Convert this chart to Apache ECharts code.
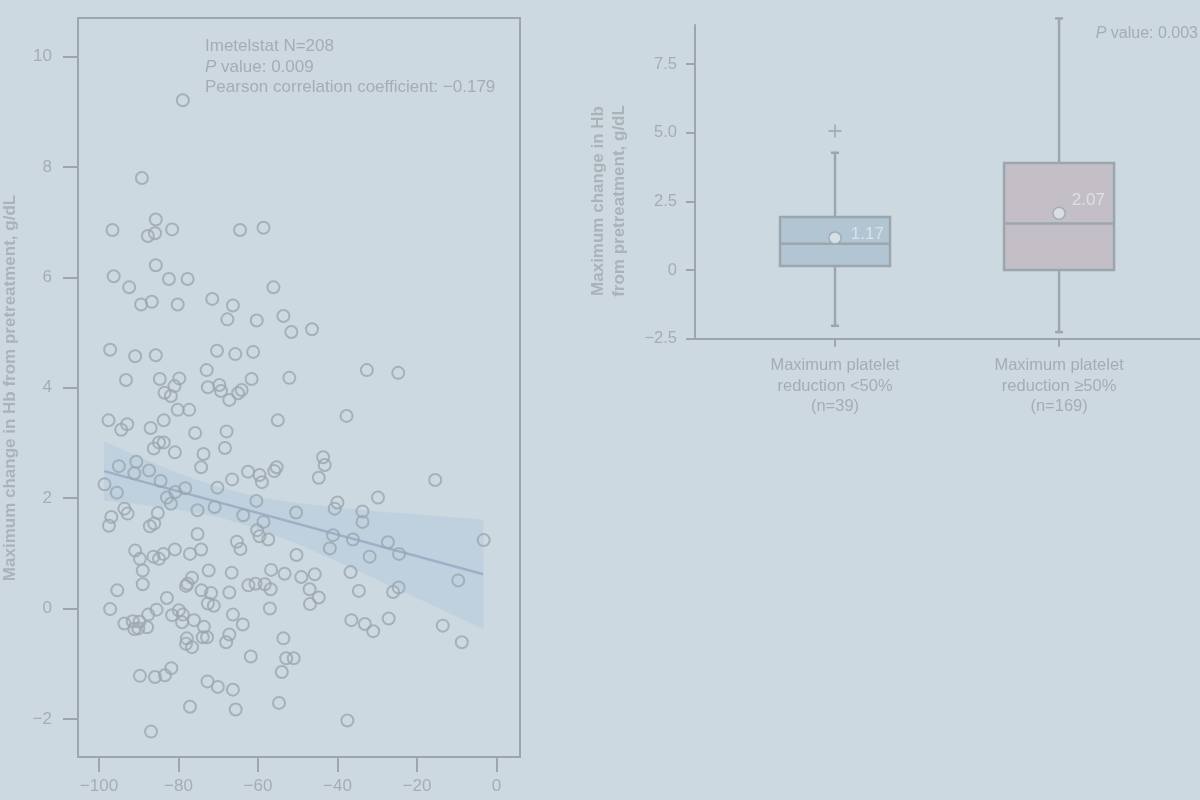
<!DOCTYPE html>
<html><head><meta charset="utf-8">
<script src="https://cdn.jsdelivr.net/npm/echarts@6/dist/echarts.min.js"></script>
<style>html,body{margin:0;padding:0;background:#cdd9e0}#c{width:1200px;height:800px}</style>
</head><body><div id="c"></div>
<script>
// ---- Left panel: scatter of max platelet reduction (%) vs max change in Hb (g/dL)
const plateletReduction = [
-89.2,-85.7,-96.6,-87.7,-85.9,-81.6,-64.5,-58.6,-85.7,-96.3,-92.4,-82.4,-77.7,-56.1,-89.4,-86.7,-80.2,-71.5,-66.3,-67.7,
-60.3,-53.6,-51.6,-97.2,-90.9,-85.7,-70.3,-65.7,-61.2,-93.2,-84.7,-79.8,-81.0,-83.5,-81.9,-72.9,-72.6,-69.7,-69.3,-67.2,
-65.0,-64.1,-61.6,-52.1,-97.6,-94.4,-92.9,-87.0,-83.7,-80.2,-77.3,-75.8,-67.9,-55.0,-86.2,-84.9,-83.7,-80.9,-73.7,-68.3,
-74.3,-95.0,-90.6,-91.1,-87.4,-84.5,-98.6,-95.5,-80.8,-78.3,-82.9,-81.9,-70.2,-66.5,-62.5,-59.6,-59.0,-55.9,-55.3,-60.4,
-96.9,-97.5,-93.6,-92.8,-85.2,-87.2,-86.1,-75.2,-70.9,-63.7,-58.6,-50.4,-75.2,-60.2,-59.6,-57.4,-65.3,-64.4,-90.9,-89.7,
-86.3,-84.9,-83.8,-80.9,-77.1,-74.3,-50.3,-89.0,-72.4,-66.6,-56.7,-53.3,-95.4,-89.0,-78.1,-77.7,-76.6,-74.2,-71.8,-67.2,
-62.4,-60.6,-58.3,-56.8,-82.9,-49.1,-37.7,-43.6,-43.2,-44.7,-15.4,-29.8,-40.0,-40.7,-33.7,-33.7,-41.1,-36.1,-27.3,-24.5,
-3.2,-41.9,-31.9,-45.7,-36.7,-9.6,-47.0,-44.7,-34.6,-26.0,-24.6,-97.2,-93.6,-91.5,-91.1,-89.8,-90.1,-87.9,-87.6,-85.5,
-81.6,-79.9,-78.9,-79.1,-76.1,-73.6,-73.9,-72.8,-77.9,-78.1,-76.6,-72.6,-71.1,-66.3,-63.8,-67.2,-68.0,-57.0,-53.6,-61.8,
-52.9,-51.0,-54.0,-89.7,-85.9,-83.4,-81.8,-72.7,-70.1,-66.3,-77.1,-65.6,-54.7,-86.9,-46.9,-36.5,-33.1,-31.0,-27.1,-13.5,
-8.7,-37.5,-78.9,-46.4,-32.6,-24.7
];
const hbChange = [
7.80,7.05,6.86,6.75,6.80,6.87,6.86,6.90,6.22,6.02,5.82,5.97,5.97,5.82,5.51,5.56,5.51,5.61,5.49,5.24,
5.22,5.30,5.01,4.69,4.57,4.59,4.67,4.61,4.65,4.14,4.16,4.17,4.03,3.91,3.85,4.32,4.01,4.05,3.94,3.78,
3.90,3.96,4.16,4.18,3.41,3.24,3.34,3.27,3.41,3.60,3.60,3.18,3.21,3.41,2.90,3.01,3.01,2.83,2.80,2.91,
2.56,2.58,2.66,2.45,2.50,2.31,2.25,2.10,2.11,2.18,2.01,1.90,2.19,2.34,2.48,2.42,2.29,2.49,2.56,1.95,
1.66,1.50,1.81,1.72,1.73,1.49,1.54,1.78,1.84,1.69,1.57,1.74,1.35,1.42,1.31,1.25,1.21,1.08,1.05,0.90,
0.94,0.90,0.99,1.07,0.99,1.07,0.97,0.69,0.69,0.65,0.70,0.63,0.33,0.44,0.41,0.45,0.56,0.33,0.28,0.29,
0.42,0.45,0.44,0.35,0.19,0.57,3.49,2.74,2.60,2.37,2.33,2.01,1.92,1.81,1.76,1.57,1.33,1.25,1.20,0.99,
1.24,1.09,0.94,0.62,0.66,0.51,0.35,0.20,0.32,0.30,0.38,-0.01,-0.27,-0.23,-0.37,-0.24,-0.36,-0.34,-0.11,-0.02,
-0.12,-0.03,-0.11,-0.25,-0.21,-0.33,-0.52,-0.52,-0.54,-0.64,-0.70,0.09,0.05,-0.11,-0.29,-0.47,-0.61,0.00,-0.54,-0.87,
-0.90,-0.90,-1.15,-1.22,-1.24,-1.21,-1.08,-1.32,-1.42,-1.47,-1.78,-1.83,-1.71,-2.23,0.08,-0.21,-0.28,-0.41,-0.18,-0.31,
-0.61,-2.03,9.21,5.06,4.32,4.27
];
const regLineX = [-98.7, -3.3];
const regLineY = [2.49, 0.62];
const bandX     = [-98.7, -90, -80, -70, -60, -50, -40, -30, -20, -10, -3.3];
const bandUpper = [3.03, 2.75, 2.45, 2.20, 2.02, 1.91, 1.83, 1.76, 1.71, 1.65, 1.61];
const bandLower = [1.95, 1.89, 1.79, 1.66, 1.44, 1.17, 0.85, 0.52, 0.19, -0.15, -0.37];
const scatterXTicks = [-100, -80, -60, -40, -20, 0];
const scatterYTicks = [-2, 0, 2, 4, 6, 8, 10];
const nPatients = 208;
const scatterP = '0.009';
const pearsonR = '\u22120.179';

// ---- Right panel: box plot
const boxCategories = ['Maximum platelet\nreduction <50%\n(n=39)', 'Maximum platelet\nreduction \u226550%\n(n=169)'];
const boxPos    = [1, 2];
const boxMin    = [-2.03, -2.26];
const boxQ1     = [0.15, 0.00];
const boxMedian = [0.96, 1.69];
const boxQ3     = [1.93, 3.90];
const boxMax    = [4.27, 9.16];
const boxMean   = [1.17, 2.07];
const outlierPos = [1];
const outlierVal = [5.06];
const boxYTicks = [-2.5, 0, 2.5, 5, 7.5];
const boxP = '0.003';

const GRAY = '#9ba6ae';
const TEXT = '#a4adb4';
const FONT = '"Liberation Sans", Arial, sans-serif';
const FS = 17;
const boxColors = ['#b2c5d3', '#c4bec6'];
const minus = v => String(v).replace('-', '\u2212');

const chart = echarts.init(document.getElementById('c'));

const boxData = boxPos.map((p, i) => [p, boxMin[i], boxQ1[i], boxMedian[i], boxQ3[i], boxMax[i]]);

function renderBox(params, api) {
  const x = api.value(0);
  const pMin = api.coord([x, api.value(1)]);
  const pQ1 = api.coord([x, api.value(2)]);
  const pMed = api.coord([x, api.value(3)]);
  const pQ3 = api.coord([x, api.value(4)]);
  const pMax = api.coord([x, api.value(5)]);
  const half = 55, cap = 4;
  const ls = { stroke: GRAY, lineWidth: 2.5 };
  const cx = pMed[0];
  return {
    type: 'group',
    children: [
      { type: 'line', shape: { x1: cx, y1: pMax[1], x2: cx, y2: pQ3[1] }, style: ls },
      { type: 'line', shape: { x1: cx, y1: pQ1[1], x2: cx, y2: pMin[1] }, style: ls },
      { type: 'line', shape: { x1: cx - cap, y1: pMax[1], x2: cx + cap, y2: pMax[1] }, style: ls },
      { type: 'line', shape: { x1: cx - cap, y1: pMin[1], x2: cx + cap, y2: pMin[1] }, style: ls },
      { type: 'rect', shape: { x: cx - half, y: pQ3[1], width: 2 * half, height: pQ1[1] - pQ3[1] },
        style: { fill: boxColors[params.dataIndex], stroke: GRAY, lineWidth: 2.5 } },
      { type: 'line', shape: { x1: cx - half, y1: pMed[1], x2: cx + half, y2: pMed[1] }, style: ls }
    ]
  };
}

function renderBand(params, api) {
  const pts = [];
  bandX.forEach((x, i) => pts.push(api.coord([x, bandUpper[i]])));
  for (let i = bandX.length - 1; i >= 0; i--) pts.push(api.coord([bandX[i], bandLower[i]]));
  return { type: 'polygon', shape: { points: pts }, style: { fill: 'rgba(176,200,222,0.45)' } };
}

const labelOffsets = [[0, -4], [0, -13]];
const labelDist = [9, 6];

const option = {
  backgroundColor: '#cdd9e0',
  animation: false,
  textStyle: { fontFamily: FONT },
  grid: [
    { left: 78, top: 18, width: 442, height: 739, show: true, borderColor: GRAY, borderWidth: 2, containLabel: false },
    { left: 695, top: 25, right: 0, height: 313.7, containLabel: false }
  ],
  xAxis: [
    { type: 'value', gridIndex: 0, min: -105.28, max: 5.94,
      axisLine: { show: false, onZero: false },
      axisTick: { show: true, length: 15, lineStyle: { color: GRAY, width: 2 }, customValues: scatterXTicks },
      axisLabel: { customValues: scatterXTicks, formatter: minus, color: TEXT, fontSize: FS, margin: 21, fontFamily: FONT },
      splitLine: { show: false } },
    { type: 'value', gridIndex: 1, min: 0.375, max: 2.629,
      axisLine: { show: true, onZero: false, lineStyle: { color: GRAY, width: 2 } },
      axisTick: { show: true, length: 8, lineStyle: { color: GRAY, width: 2 }, customValues: boxPos },
      axisLabel: { customValues: boxPos, formatter: v => boxCategories[Math.round(v) - 1], color: TEXT,
        fontSize: 16.5, lineHeight: 20.5, margin: 17, fontFamily: FONT },
      splitLine: { show: false } }
  ],
  yAxis: [
    { type: 'value', gridIndex: 0, min: -2.69, max: 10.70,
      axisLine: { show: false, onZero: false },
      axisTick: { show: true, length: 15, lineStyle: { color: GRAY, width: 2 }, customValues: scatterYTicks },
      axisLabel: { customValues: scatterYTicks, formatter: minus, color: TEXT, fontSize: FS, margin: 26, fontFamily: FONT },
      splitLine: { show: false } },
    { type: 'value', gridIndex: 1, min: -2.5, max: 8.92,
      axisLine: { show: true, onZero: false, lineStyle: { color: GRAY, width: 2 } },
      axisTick: { show: true, length: 9, lineStyle: { color: GRAY, width: 2 }, customValues: boxYTicks },
      axisLabel: { customValues: boxYTicks, formatter: v => v === 0 ? '0' : minus(v.toFixed(1)), color: TEXT,
        fontSize: 16.5, margin: 18, fontFamily: FONT },
      splitLine: { show: false } }
  ],
  series: [
    { type: 'custom', xAxisIndex: 0, yAxisIndex: 0, renderItem: renderBand, silent: true, z: 1,
      data: [[bandX[0], bandUpper[0]]] },
    { type: 'line', xAxisIndex: 0, yAxisIndex: 0, symbol: 'none', silent: true, z: 2,
      lineStyle: { color: '#9db0c6', width: 2.5 }, data: regLineX.map((x, i) => [x, regLineY[i]]) },
    { type: 'scatter', xAxisIndex: 0, yAxisIndex: 0, symbol: 'circle', symbolSize: 12, z: 3,
      itemStyle: { color: 'rgba(0,0,0,0)', borderColor: GRAY, borderWidth: 2 },
      data: plateletReduction.map((x, i) => [x, hbChange[i]]) },
    { type: 'custom', xAxisIndex: 1, yAxisIndex: 1, renderItem: renderBox, data: boxData,
      encode: { x: 0, y: [1, 2, 3, 4, 5] }, z: 2 },
    { type: 'scatter', xAxisIndex: 1, yAxisIndex: 1, symbol: 'circle', symbolSize: 12, z: 5,
      itemStyle: { color: '#dfe6ea', borderColor: GRAY, borderWidth: 1.5 },
      data: boxPos.map((p, i) => ({ value: [p, boxMean[i]],
        label: { show: true, position: 'right', distance: labelDist[i], offset: labelOffsets[i],
          formatter: boxMean[i].toFixed(2), color: '#e3e9ed', fontSize: FS, fontFamily: FONT } })) },
    { type: 'scatter', xAxisIndex: 1, yAxisIndex: 1, symbol: 'path://M-1,-7h2v14h-2z M-7,-1h14v2h-14z',
      symbolSize: 13, itemStyle: { color: GRAY }, z: 5,
      data: outlierPos.map((p, i) => [p, outlierVal[i]]) }
  ],
  graphic: [
    { type: 'text', x: 205, y: 46, style: { text: 'Imetelstat N=' + nPatients, fill: TEXT, fontSize: FS, fontFamily: FONT, verticalAlign: 'middle' } },
    { type: 'text', x: 205, y: 67, style: { text: '{i|P} value: ' + scatterP, fill: TEXT, fontSize: FS, fontFamily: FONT, verticalAlign: 'middle',
      rich: { i: { fontStyle: 'italic', fontSize: FS, fontFamily: FONT, fill: TEXT } } } },
    { type: 'text', x: 205, y: 87.5, style: { text: 'Pearson correlation coefficient: ' + pearsonR, fill: TEXT, fontSize: FS, fontFamily: FONT, verticalAlign: 'middle' } },
    { type: 'text', x: 1198, y: 34, style: { text: '{i|P} value: ' + boxP, fill: TEXT, fontSize: 16, fontFamily: FONT, align: 'right', verticalAlign: 'middle',
      rich: { i: { fontStyle: 'italic', fontSize: 16, fontFamily: FONT, fill: TEXT } } } },
    { type: 'text', x: 10, y: 388, rotation: Math.PI / 2, style: { text: 'Maximum change in Hb from pretreatment, g/dL',
      fill: '#a9b3ba', fontSize: FS, fontWeight: 'bold', fontFamily: FONT, align: 'center', verticalAlign: 'middle' } },
    { type: 'text', x: 598, y: 201, rotation: Math.PI / 2, style: { text: 'Maximum change in Hb',
      fill: '#a9b3ba', fontSize: FS, fontWeight: 'bold', fontFamily: FONT, align: 'center', verticalAlign: 'middle' } },
    { type: 'text', x: 619, y: 201, rotation: Math.PI / 2, style: { text: 'from pretreatment, g/dL',
      fill: '#a9b3ba', fontSize: FS, fontWeight: 'bold', fontFamily: FONT, align: 'center', verticalAlign: 'middle' } }
  ]
};
chart.setOption(option);
</script></body></html>
